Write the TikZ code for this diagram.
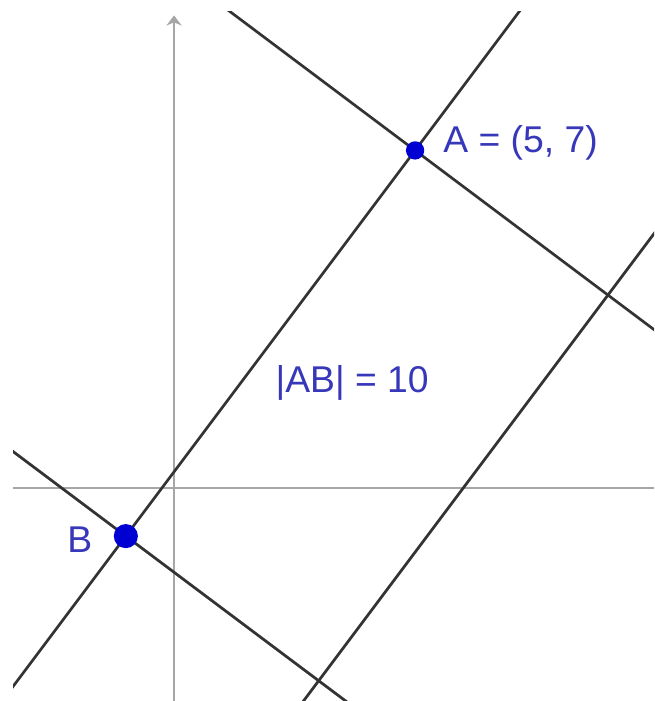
\documentclass[tikz,border=0pt]{standalone}
\usepackage{fontspec}
\setmainfont{Liberation Sans}
\usetikzlibrary{calc,arrows.meta}
\definecolor{ptblue}{RGB}{0,0,210}
\definecolor{lblblue}{RGB}{55,55,185}

\begin{document}
\begin{tikzpicture}[
  axis/.style={draw=black!35,line width=0.8pt},
  gline/.style={draw=black!80,line width=1.6pt},
  dot/.style={circle,fill=ptblue,inner sep=0pt},
  lbl/.style={text=lblblue,inner sep=0pt,font=\fontsize{22}{26}\selectfont}]
\useasboundingbox (-3.61,-4.42) rectangle (9.96,10.12);
\clip (-3.34,-4.42) rectangle (9.96,9.88);
\coordinate (A) at (5,7);
\coordinate (B) at (-1,-1);
\coordinate (C) at (9,4);
\coordinate (D) at (3,-4);
% axes
\draw[axis] (-3.34,0) -- (9.96,0);
\draw[axis,-{Stealth[length=6pt,width=9pt]}] (0,-4.42) -- (0,9.8);
% lines
\draw[gline] ($(A)!-1!(B)$) -- ($(A)!2!(B)$);
\draw[gline] ($(A)!-3!(C)$) -- ($(A)!3!(C)$);
\draw[gline] ($(B)!-3!(D)$) -- ($(B)!3!(D)$);
\draw[gline] ($(C)!-3!(D)$) -- ($(C)!3!(D)$);
% points
\node[dot,minimum size=0.38cm] (pA) at (A) {};
\node[dot,minimum size=0.5cm] (pB) at (B) {};
\node[lbl,anchor=base west] (lA) at (5.58,6.95) {A = (5, 7)};
\node[lbl,anchor=base west] (lB) at (-2.22,-1.35) {B};
\node[lbl,anchor=base west] (lAB) at (2.10,1.97) {|AB| = 10};
\end{tikzpicture}
\end{document}
